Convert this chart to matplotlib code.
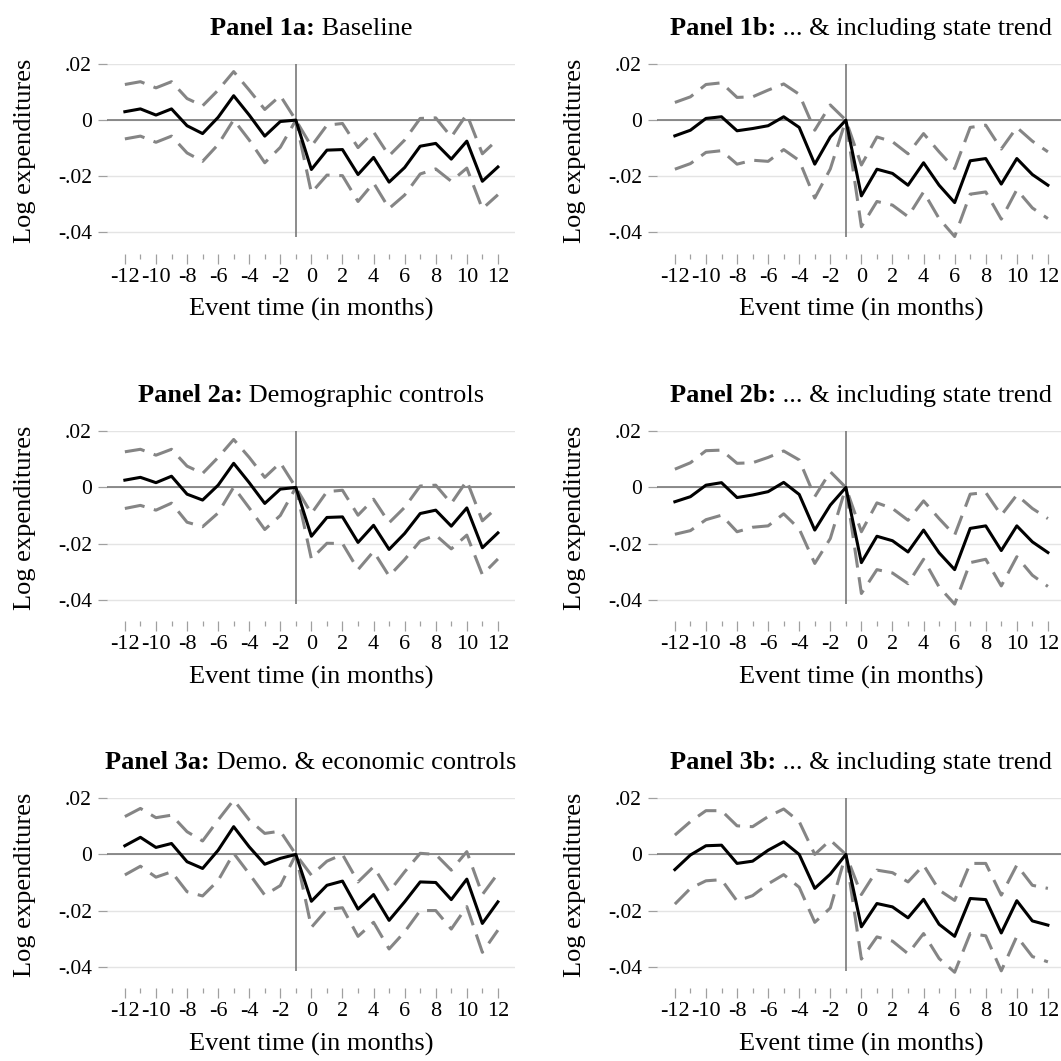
import numpy as np
import matplotlib.pyplot as plt

plt.rcParams['font.family'] = ['Liberation Serif', 'DejaVu Serif']
plt.rcParams['axes.unicode_minus'] = False
plt.rcParams['lines.scale_dashes'] = False

# event time in months (-1 is the reference month)
event_time = np.arange(-12, 13)

# point estimates and half-widths of the 95% CI
coef_1a = [0.0030, 0.0040, 0.0018, 0.0040, -0.0020, -0.0048, 0.0010, 0.0087, 0.0018, -0.0057, -0.0005, 0.0,
           -0.0176, -0.0107, -0.0105, -0.0194, -0.0133, -0.0221, -0.0169, -0.0093, -0.0083, -0.0139, -0.0075, -0.0218, -0.0167]
ci_1a = [0.0097, 0.0097, 0.0097, 0.0097, 0.0097, 0.0099, 0.0097, 0.0086, 0.0089, 0.0095, 0.0092, 0.0,
         0.0083, 0.0089, 0.0093, 0.0096, 0.0091, 0.0094, 0.0098, 0.0099, 0.0091, 0.0079, 0.0096, 0.0098, 0.0099]

coef_1b = [-0.0056, -0.0036, 0.0006, 0.0012, -0.0038, -0.0030, -0.0020, 0.0012, -0.0026, -0.0157, -0.0060, 0.0,
           -0.0270, -0.0175, -0.0190, -0.0232, -0.0152, -0.0232, -0.0294, -0.0145, -0.0137, -0.0228, -0.0137, -0.0194, -0.0232]
ci_1b = [0.0119, 0.0119, 0.0121, 0.0121, 0.0119, 0.0113, 0.0127, 0.0117, 0.0118, 0.0121, 0.0114, 0.0,
         0.0110, 0.0115, 0.0113, 0.0112, 0.0104, 0.0119, 0.0121, 0.0119, 0.0119, 0.0125, 0.0111, 0.0119, 0.0119]

coef_2a = [0.0026, 0.0036, 0.0017, 0.0040, -0.0024, -0.0045, 0.0008, 0.0086, 0.0017, -0.0057, -0.0006, 0.0,
           -0.0174, -0.0107, -0.0105, -0.0196, -0.0135, -0.0221, -0.0164, -0.0093, -0.0081, -0.0138, -0.0073, -0.0215, -0.0162]
ci_2a = [0.0101, 0.0100, 0.0098, 0.0096, 0.0100, 0.0095, 0.0099, 0.0085, 0.0090, 0.0093, 0.0094, 0.0,
         0.0081, 0.0092, 0.0095, 0.0097, 0.0093, 0.0095, 0.0093, 0.0098, 0.0089, 0.0081, 0.0097, 0.0096, 0.0093]

coef_2b = [-0.0051, -0.0033, 0.0008, 0.0017, -0.0036, -0.0027, -0.0015, 0.0018, -0.0025, -0.0152, -0.0063, 0.0,
           -0.0268, -0.0174, -0.0190, -0.0230, -0.0152, -0.0233, -0.0293, -0.0146, -0.0137, -0.0225, -0.0137, -0.0194, -0.0232]
ci_2b = [0.0116, 0.0121, 0.0123, 0.0116, 0.0122, 0.0115, 0.0122, 0.0112, 0.0123, 0.0119, 0.0119, 0.0,
         0.0110, 0.0119, 0.0115, 0.0113, 0.0104, 0.0122, 0.0123, 0.0122, 0.0119, 0.0126, 0.0110, 0.0119, 0.0121]

coef_3a = [0.0031, 0.0061, 0.0025, 0.0039, -0.0026, -0.0050, 0.0015, 0.0099, 0.0027, -0.0035, -0.0014, 0.0,
           -0.0167, -0.0110, -0.0095, -0.0195, -0.0143, -0.0235, -0.0169, -0.0098, -0.0100, -0.0161, -0.0088, -0.0246, -0.0169]
ci_3a = [0.0104, 0.0103, 0.0106, 0.0101, 0.0107, 0.0098, 0.0108, 0.0095, 0.0096, 0.0110, 0.0097, 0.0,
         0.0093, 0.0086, 0.0095, 0.0097, 0.0099, 0.0102, 0.0107, 0.0102, 0.0100, 0.0105, 0.0098, 0.0103, 0.0101]

coef_3b = [-0.0054, -0.0002, 0.0031, 0.0033, -0.0032, -0.0024, 0.0015, 0.0045, 0.0, -0.0121, -0.0070, 0.0,
           -0.0258, -0.0175, -0.0187, -0.0226, -0.0160, -0.0249, -0.0292, -0.0157, -0.0161, -0.0280, -0.0165, -0.0237, -0.0252]
ci_3b = [0.0123, 0.0119, 0.0125, 0.0123, 0.0134, 0.0123, 0.0120, 0.0117, 0.0117, 0.0121, 0.0121, 0.0,
         0.0115, 0.0119, 0.0122, 0.0128, 0.0122, 0.0122, 0.0128, 0.0125, 0.0129, 0.0135, 0.0127, 0.0127, 0.0131]

panel_ids = ['Panel 1a:', 'Panel 1b:', 'Panel 2a:', 'Panel 2b:', 'Panel 3a:', 'Panel 3b:']
panel_names = [' Baseline', ' ... & including state trend', ' Demographic controls',
               ' ... & including state trend', ' Demo. & economic controls', ' ... & including state trend']
coefs = [coef_1a, coef_1b, coef_2a, coef_2b, coef_3a, coef_3b]
cis = [ci_1a, ci_1b, ci_2a, ci_2b, ci_3a, ci_3b]

yticks = [0.02, 0.0, -0.02, -0.04]
ytick_labels = ['.02', '0', '-.02', '-.04']
xticks = np.arange(-12, 13, 2)
xtick_labels = [str(v) for v in xticks]
xticks_minor = np.arange(-11, 12, 2)

W = 1061
fig = plt.figure(figsize=(W / 100, W / 100), dpi=100)

col_left = [107 / W, 657 / W]
row_bottom = [0.7768, 0.4306, 0.0847]
ax_w = 408 / W
ax_h = 172.8 / W

titles = []
for i in range(6):
    r, c = divmod(i, 2)
    ax = fig.add_axes([col_left[c], row_bottom[r], ax_w, ax_h])
    b = np.array(coefs[i])
    h = np.array(cis[i])

    ax.axhline(0, color='#6e6e6e', lw=1.1, zorder=1)
    ax.axvline(-1, color='#6e6e6e', lw=1.1, zorder=1)
    for yy in (b + h, b - h):
        ax.plot(event_time, yy, color='#858585', lw=2.2, dashes=(14.5, 7),
                dash_capstyle='butt', clip_on=False, zorder=2)
    ax.plot(event_time, b, color='black', lw=2.2, solid_joinstyle='round', clip_on=False, zorder=3)

    ax.set_xlim(-13.15, 13.1)
    ax.set_ylim(-0.0416, 0.02)

    ax.set_yticks(yticks)
    ax.set_yticklabels(ytick_labels)
    ax.set_xticks(xticks)
    ax.set_xticklabels(xtick_labels)
    ax.set_xticks(xticks_minor, minor=True)
    ax.grid(axis='y', color='#e4e4e4', lw=1.0)
    ax.set_axisbelow(True)

    for s in ax.spines.values():
        s.set_visible(False)
    ax.spines['bottom'].set_position(('outward', 12.2))

    ax.tick_params(axis='y', length=6.5, width=0.9, color='#a0a0a0', pad=4.3, labelsize=15.5)
    ax.tick_params(axis='x', which='major', length=7, width=0.9, color='#a0a0a0', pad=3, labelsize=16)
    ax.tick_params(axis='x', which='minor', length=3.5, width=0.9, color='#a0a0a0')

    ax.set_ylabel('Log expenditures', fontsize=19)
    ax.yaxis.set_label_coords(-0.174, 0.5)
    ax.set_xlabel('Event time (in months)', fontsize=19)
    ax.xaxis.set_label_coords(0.5, -0.355)

    t1 = ax.text(0, 1.168, panel_ids[i], transform=ax.transAxes, fontsize=19,
                 fontweight='bold', ha='left', va='baseline')
    t2 = ax.annotate(panel_names[i], xy=(1, 0), xycoords=t1, fontsize=19,
                     ha='left', va='bottom')
    titles.append((ax, t1, t2))

# center the two-part titles over each plot
fig.canvas.draw()
rend = fig.canvas.get_renderer()
for ax, t1, t2 in titles:
    w = t1.get_window_extent(rend).width + t2.get_window_extent(rend).width
    axw = ax.get_window_extent(rend).width
    t1.set_x(0.5 - w / 2 / axw)

fig.savefig('out.png', dpi=100)
